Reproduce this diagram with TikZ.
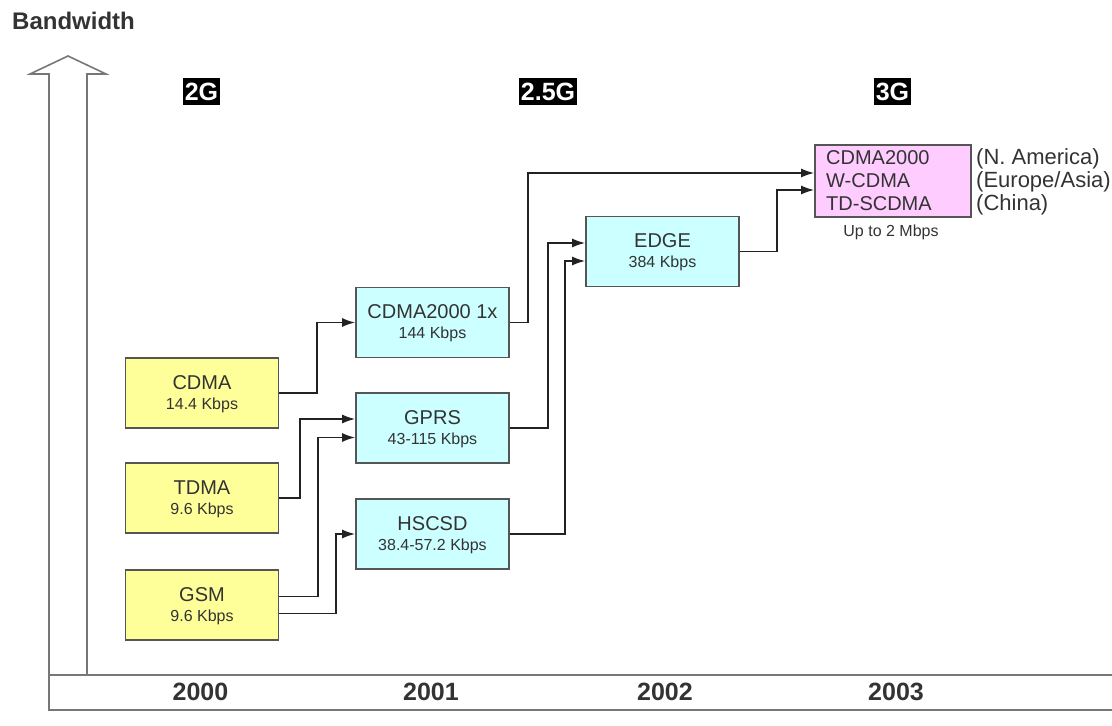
\documentclass[tikz,border=0pt]{standalone}
\usepackage{fontspec}
\setmainfont{Liberation Sans}
\usetikzlibrary{arrows.meta,calc}
\definecolor{yelfill}{HTML}{FFFF99}
\definecolor{cyanfill}{HTML}{CCFFFF}
\definecolor{pinkfill}{HTML}{FFCCFF}
\definecolor{boxline}{HTML}{555555}
\definecolor{txt}{HTML}{333333}
\definecolor{connline}{HTML}{222222}
\definecolor{axisline}{HTML}{777777}
\newcommand{\nmfont}{\fontsize{20}{24}\selectfont}
\newcommand{\spfont}{\fontsize{16}{19}\selectfont}
\tikzset{
  gbox/.style={draw=boxline, line width=1.6pt, minimum width=153pt, minimum height=70pt, inner sep=0pt},
  yelbox/.style={gbox, fill=yelfill},
  cyanbox/.style={gbox, fill=cyanfill},
  nm/.style={font=\nmfont, text=txt, anchor=base, inner sep=0pt},
  sp/.style={font=\spfont, text=txt, anchor=base, inner sep=0pt},
  side/.style={font=\fontsize{20}{24}\selectfont, text=txt, anchor=base west, inner sep=0pt},
  sidelbl/.style={font=\fontsize{22}{26}\selectfont, text=txt, anchor=base west, inner sep=0pt},
  conn/.style={draw=connline, line width=1.7pt, -{Latex[length=13pt,width=9pt]}},
  tag/.style={fill=black, text=white, font=\fontsize{25}{30}\selectfont\bfseries, inner xsep=2pt, inner ysep=5pt},
  year/.style={font=\fontsize{25}{30}\selectfont\bfseries, text=txt, anchor=base, inner sep=0pt},
  axis/.style={draw=axisline, line width=1.6pt}
}
\begin{document}
\begin{tikzpicture}[x=1pt,y=-1pt]
\useasboundingbox (0,0) rectangle (1112,726);
% axis
\draw[axis] (1112,710) -- (49,710) -- (49,74) -- (30,74) -- (68,56) -- (106,74) -- (87,74) -- (87,675);
\draw[axis] (49,675) -- (1112,675);
\node[font=\fontsize{24}{28}\selectfont\bfseries, text=txt, anchor=base west, inner sep=0pt] (bw) at (12,29) {Bandwidth};
% tags
\node[tag] (t2) at (201.5,91.5) {2G};
\node[tag] (t25) at (548,91.5) {2.5G};
\node[tag] (t3) at (892.5,91.5) {3G};
% years
\node[year] (y0) at (200.5,700) {2000};
\node[year] (y1) at (431,700) {2001};
\node[year] (y2) at (665,700) {2002};
\node[year] (y3) at (896,700) {2003};
% boxes
\node[yelbox] (cdma) at (202,393) {};
\node[yelbox] (tdma) at (202,498) {};
\node[yelbox] (gsm) at (202,605) {};
\node[cyanbox] (c1x) at (432.5,322.5) {};
\node[cyanbox] (gprs) at (432.5,428) {};
\node[cyanbox] (hscsd) at (432.5,534) {};
\node[cyanbox] (edge) at (662.5,251.5) {};
\node[gbox, fill=pinkfill, minimum width=156pt, minimum height=72pt] (g3) at (893,181) {};
% box texts
\foreach \b/\n/\s in {cdma/CDMA/14.4 Kbps, tdma/TDMA/9.6 Kbps, gsm/GSM/9.6 Kbps, c1x/CDMA2000 1x/144 Kbps, gprs/GPRS/43-115 Kbps, hscsd/HSCSD/38.4-57.2 Kbps, edge/EDGE/384 Kbps}{
  \node[nm] (\b-n) at ($(\b.center)+(0,-4)$) {\n};
  \node[sp] (\b-s) at ($(\b.center)+(0,16)$) {\s};
}
\node[side] (g3a) at (826,164) {CDMA2000};
\node[side] (g3b) at (826,187) {W-CDMA};
\node[side] (g3c) at (826,210) {TD-SCDMA};
\node[sidelbl] (na) at (976,164) {(N. America)};
\node[sidelbl] (eu) at (976,187) {(Europe/Asia)};
\node[sidelbl] (cn) at (976,210) {(China)};
\node[sp] (up) at (891,236) {Up to 2 Mbps};
% connectors
\draw[conn] (cdma.east) -- ++(38,0) |- (c1x.west);
\draw[conn] (tdma.east) -- ++(21,0) |- ($(gprs.west)+(0,-9)$);
\draw[conn] ($(gsm.east)+(0,-8.5)$) -- ++(39,0) |- ($(gprs.west)+(0,9.5)$);
\draw[conn] ($(gsm.east)+(0,8.5)$) -- ++(57,0) |- (hscsd.west);
\draw[conn] (c1x.east) -- ++(18,0) |- ($(g3.west)+(0,-8)$);
\draw[conn] (gprs.east) -- ++(38,0) |- ($(edge.west)+(0,-8.5)$);
\draw[conn] (hscsd.east) -- ++(55,0) |- ($(edge.west)+(0,9.5)$);
\draw[conn] (edge.east) -- ++(37,0) |- ($(g3.west)+(0,9)$);
\end{tikzpicture}
\end{document}
